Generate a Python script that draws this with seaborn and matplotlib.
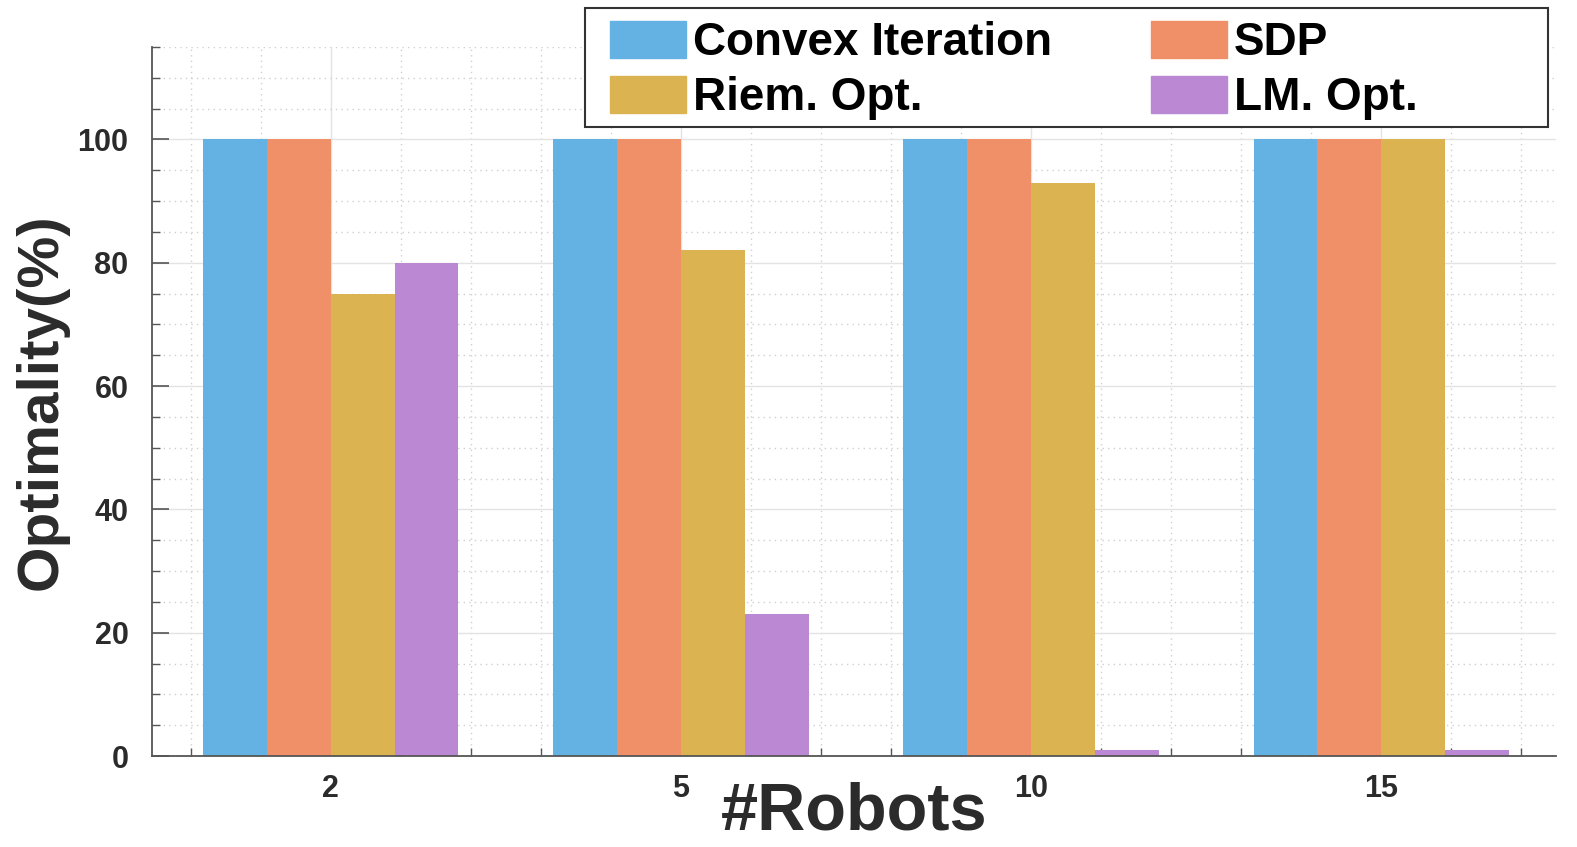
import pandas as pd
import matplotlib
matplotlib.use('Agg')
import matplotlib.pyplot as plt
import matplotlib.patches as mpatches
from matplotlib.ticker import MultipleLocator
import seaborn as sns

# --- data ---
robots = ['2', '5', '10', '15']
methods = ['Convex Iteration', 'SDP', 'Riem. Opt.', 'LM. Opt.']
convex_iter = [100, 100, 100, 100]
sdp = [100, 100, 100, 100]
riem_opt = [75, 82, 93, 100]
lm_opt = [80, 23, 1, 1]
colors = ['#63B2E3', '#EF9068', '#DBB350', '#BB89D3']

rows = []
for name, vals in zip(methods, [convex_iter, sdp, riem_opt, lm_opt]):
    for r, v in zip(robots, vals):
        rows.append({'Robots': r, 'Method': name, 'Optimality': v})
df = pd.DataFrame(rows)

sns.set_style('white')
plt.rcParams['font.family'] = ['Liberation Sans', 'DejaVu Sans']
plt.rcParams['font.weight'] = 'bold'

fig = plt.figure(figsize=(15.77, 8.47), dpi=100)
ax = fig.add_axes([0.0964, 0.1074, 0.8906, 0.8371])

sns.barplot(data=df, x='Robots', y='Optimality', hue='Method', order=robots,
            hue_order=methods, palette=colors, width=0.73, saturation=1,
            linewidth=0, ax=ax, legend=False)

ax.set_xlim(-0.51, 3.5)
ax.set_ylim(0, 115)
ax.set_yticks([0, 20, 40, 60, 80, 100])
ax.yaxis.set_minor_locator(MultipleLocator(5))
ax.set_xticks([0, 1, 2, 3])
ax.set_xticklabels(robots)
ax.xaxis.set_minor_locator(MultipleLocator(0.2))

ax.set_axisbelow(True)
ax.grid(which='major', color='#e3e3e3', linestyle='-', linewidth=1.0)
ax.grid(which='minor', color='#d0d0d0', linestyle=(0, (1, 3)), linewidth=1.0)

for s in ['top', 'right']:
    ax.spines[s].set_visible(False)
for s in ['left', 'bottom']:
    ax.spines[s].set_color('#555555')
    ax.spines[s].set_linewidth(1.3)

ax.tick_params(which='major', direction='in', length=12, width=1.2, color='#555555',
               labelsize=22, labelcolor='#2b2b2b', left=True, bottom=True)
ax.tick_params(axis='y', which='major', pad=17)
ax.tick_params(axis='x', which='major', pad=13)
ax.tick_params(which='minor', direction='in', length=6, width=1.0, color='#555555',
               left=True, bottom=True)
for lab in ax.get_xticklabels() + ax.get_yticklabels():
    lab.set_fontweight('bold')

ax.set_xlabel('#Robots', fontsize=48, fontweight='bold', color='#2b2b2b', labelpad=-16)
ax.set_ylabel('Optimality(%)', fontsize=42, fontweight='bold', color='#2b2b2b', labelpad=6)

# legend: row-major order (matplotlib fills by column)
order = [0, 2, 1, 3]
handles = [mpatches.Patch(color=colors[i], label=methods[i]) for i in order]
leg = fig.legend(handles=handles, ncol=2, loc='upper left',
                 bbox_to_anchor=(610 / 1577, 1 - 21 / 847),
                 fontsize=33, frameon=False, borderaxespad=0, borderpad=0,
                 handlelength=1.66, handleheight=0.87, handletextpad=0.15,
                 columnspacing=2.15, labelspacing=0.22)
for t in leg.get_texts():
    t.set_fontweight('bold')
    t.set_color('black')
# legend box drawn separately (the frame is wider than its content)
frame = mpatches.Rectangle((585 / 1577, 1 - 127 / 847), (1548 - 585) / 1577, 119 / 847,
                           transform=fig.transFigure, facecolor='white',
                           edgecolor='#333333', linewidth=1.5, zorder=0)
fig.patches.append(frame)

fig.savefig('out.png', dpi=100)
